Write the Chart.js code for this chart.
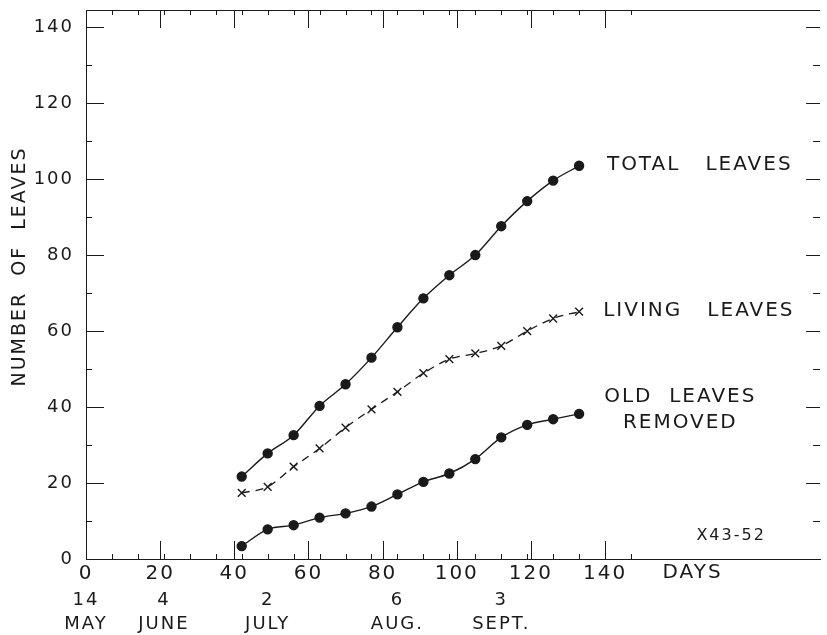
<!DOCTYPE html>
<html>
<head>
<meta charset="utf-8">
<script src="https://cdn.jsdelivr.net/npm/chart.js@4/dist/chart.umd.min.js"></script>
<style>
  html, body { margin: 0; padding: 0; background: #fff; }
  #wrap { width: 827px; height: 635px; }
</style>
</head>
<body>
<div id="wrap"><canvas id="leaves"></canvas></div>
<script>
// days after 14 May, sampled weekly
const days = [42, 49, 56, 63, 70, 77, 84, 91, 98, 105, 112, 119, 126, 133];
const totalLeaves = [21.7, 27.8, 32.6, 40.3, 46, 53, 61, 68.6, 74.7, 80, 87.6, 94.2, 99.6, 103.5];
const livingLeaves = [17.4, 19.0, 24.3, 29.1, 34.6, 39.4, 44.0, 48.9, 52.6, 54.1, 56.1, 60.0, 63.3, 65.1];
const oldRemoved = [3.4, 7.8, 8.9, 10.9, 12.0, 13.8, 17.0, 20.3, 22.5, 26.3, 32.0, 35.3, 36.8, 38.2];

const dayTicks = [0, 20, 40, 60, 80, 100, 120, 140];
const dateDays = [0, 21, 49, 84, 112];
const dateLabels = [['14', 'MAY'], ['4', 'JUNE'], ['2', 'JULY'], ['6', 'AUG.'], ['3', 'SEPT.']];
const yTicks = [0, 20, 40, 60, 80, 100, 120, 140];

const FONT = "'DejaVu Sans', sans-serif";
const INK = '#1a1a1a';

function pts(ys) {
  return days.map(function(d, i){ return {x: d, y: ys[i]}; });
}

// tick marks drawn inward on all four sides, plus the lettering in the field
const framePlugin = {
  id: 'frame',
  beforeDraw: function(chart) {
    chart.ctx.letterSpacing = '2px';
  },
  afterDraw: function(chart) {
    const ctx = chart.ctx;
    const a = chart.chartArea;
    const x = chart.scales.x;
    const y = chart.scales.y;
    ctx.save();
    ctx.strokeStyle = INK;
    ctx.lineWidth = 1;
    // top border
    ctx.beginPath();
    ctx.moveTo(a.left, a.top + 0.5);
    ctx.lineTo(a.right, a.top + 0.5);
    ctx.stroke();
    // y ticks, left and right
    for (let v = 0; v <= 140; v += 10) {
      const py = Math.round(y.getPixelForValue(v)) + 0.5;
      const major = v % 20 === 0;
      ctx.beginPath();
      ctx.moveTo(a.left, py);
      ctx.lineTo(a.left + (major ? 18 : 6), py);
      ctx.moveTo(a.right, py);
      ctx.lineTo(a.right - (major ? 14 : 7), py);
      ctx.stroke();
    }
    // x ticks, bottom and top (weekly, tall on 20s)
    const marks = [];
    for (let d = 7; d <= 147; d += 7) marks.push({d: d, len: 5});
    dayTicks.forEach(function(d){ if (d > 0) marks.push({d: d, len: 18}); });
    marks.forEach(function(m){
      const px = Math.round(x.getPixelForValue(m.d)) + 0.5;
      ctx.beginPath();
      ctx.moveTo(px, a.bottom);
      ctx.lineTo(px, a.bottom - m.len);
      ctx.moveTo(px, a.top);
      ctx.lineTo(px, a.top + m.len);
      ctx.stroke();
    });
    // lettering
    ctx.fillStyle = INK;
    ctx.font = '20px ' + FONT;
    ctx.textBaseline = 'middle';
    ctx.textAlign = 'left';
    ctx.fillText('TOTAL   LEAVES', x.getPixelForValue(140.5), y.getPixelForValue(103.7));
    ctx.fillText('LIVING   LEAVES', x.getPixelForValue(139.5), y.getPixelForValue(65.3));
    ctx.textAlign = 'center';
    ctx.fillText('OLD  LEAVES', x.getPixelForValue(160.3), y.getPixelForValue(42.6));
    ctx.fillText('REMOVED', x.getPixelForValue(160.3), y.getPixelForValue(35.8));
    ctx.textAlign = 'left';
    ctx.fillText('DAYS', x.getPixelForValue(155.5), a.bottom + 14);
    ctx.font = '16px ' + FONT;
    ctx.textAlign = 'center';
    ctx.fillText('X43-52', x.getPixelForValue(174), y.getPixelForValue(6));
    // axis title
    ctx.font = '19px ' + FONT;
    ctx.translate(20, y.getPixelForValue(77));
    ctx.rotate(-Math.PI / 2);
    ctx.fillText('NUMBER  OF  LEAVES', 0, 0);
    ctx.restore();
  }
};

new Chart(document.getElementById('leaves'), {
  type: 'line',
  data: {
    datasets: [{
      label: 'TOTAL LEAVES',
      data: pts(totalLeaves),
      borderColor: INK,
      backgroundColor: INK,
      borderWidth: 1.4,
      pointStyle: 'circle',
      pointRadius: 4.5,
      cubicInterpolationMode: 'monotone'
    }, {
      label: 'LIVING LEAVES',
      data: pts(livingLeaves),
      borderColor: INK,
      backgroundColor: INK,
      borderWidth: 1.3,
      borderDash: [8, 6],
      pointStyle: 'crossRot',
      pointRadius: 5.5,
      pointBorderWidth: 1.4,
      cubicInterpolationMode: 'monotone'
    }, {
      label: 'OLD LEAVES REMOVED',
      data: pts(oldRemoved),
      borderColor: INK,
      backgroundColor: INK,
      borderWidth: 1.4,
      pointStyle: 'circle',
      pointRadius: 4.5,
      cubicInterpolationMode: 'monotone'
    }]
  },
  options: {
    responsive: true,
    maintainAspectRatio: false,
    animation: false,
    layout: { padding: { left: 0, right: 1, top: 10, bottom: 0 } },
    plugins: {
      legend: { display: false },
      tooltip: { enabled: false }
    },
    scales: {
      x: {
        type: 'linear',
        position: 'bottom',
        min: 0,
        max: 198,
        grid: { display: false, drawTicks: false },
        border: { display: true, color: INK, width: 1 },
        afterBuildTicks: function(s){ s.ticks = dayTicks.map(function(v){ return {value: v}; }); },
        ticks: {
          color: INK,
          font: { family: FONT, size: 20 },
          padding: 3,
          maxRotation: 0,
          autoSkip: false
        },
        afterFit: function(s){ s.height = 26; s.paddingLeft = 0; s.paddingRight = 0; }
      },
      x2: {
        type: 'linear',
        position: 'bottom',
        min: 0,
        max: 198,
        grid: { display: false, drawTicks: false },
        border: { display: false },
        afterBuildTicks: function(s){ s.ticks = dateDays.map(function(v){ return {value: v}; }); },
        ticks: {
          color: INK,
          font: { family: FONT, size: 18, lineHeight: 1.3 },
          padding: 4,
          maxRotation: 0,
          autoSkip: false,
          callback: function(v, i){ return dateLabels[i]; }
        },
        afterFit: function(s){ s.height = 50; s.paddingLeft = 0; s.paddingRight = 0; }
      },
      y: {
        min: 0,
        max: 144.5,
        grid: { display: false, drawTicks: false },
        border: { display: true, color: INK, width: 1 },
        afterBuildTicks: function(s){ s.ticks = yTicks.map(function(v){ return {value: v}; }); },
        ticks: {
          color: INK,
          font: { family: FONT, size: 18 },
          padding: 12
        },
        afterFit: function(s){ s.width = 86; s.paddingTop = 0; s.paddingBottom = 0; }
      }
    }
  },
  plugins: [framePlugin]
});
</script>
</body>
</html>
